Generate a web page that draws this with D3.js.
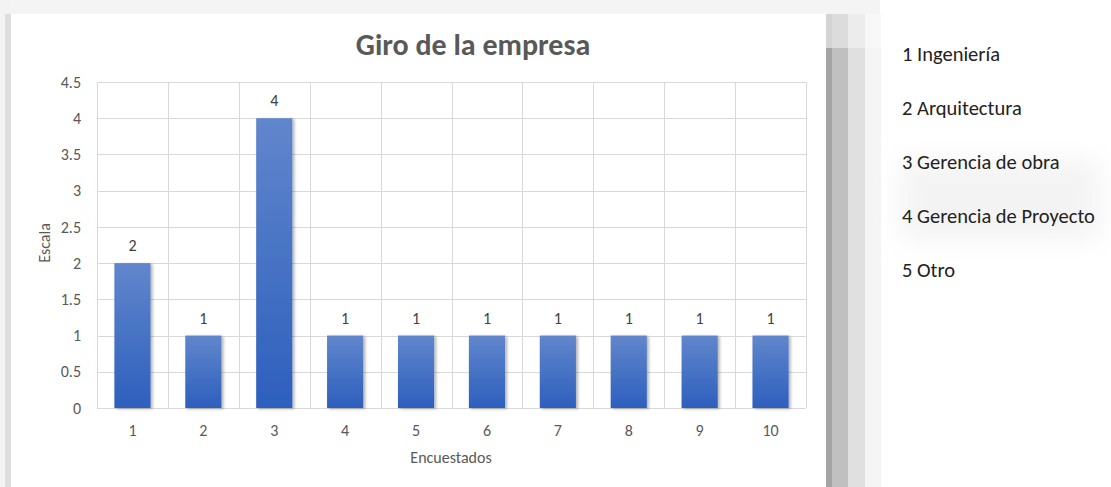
<!DOCTYPE html>
<html>
<head>
<meta charset="utf-8">
<script src="https://cdn.jsdelivr.net/npm/d3@7"></script>
<style>
  html, body { margin: 0; padding: 0; background: #ffffff; }
  svg { display: block; }
</style>
</head>
<body>
<svg id="chart" width="1111" height="487"></svg>
<script>
// Encuestados (x categories) and their values on the "Escala" axis
const encuestados = ["1", "2", "3", "4", "5", "6", "7", "8", "9", "10"];
const valores = [2, 1, 4, 1, 1, 1, 1, 1, 1, 1];
const yTicks = [0, 0.5, 1, 1.5, 2, 2.5, 3, 3.5, 4, 4.5];
const leyenda = ["1 Ingeniería", "2 Arquitectura", "3 Gerencia de obra", "4 Gerencia de Proyecto", "5 Otro"];

const svg = d3.select("#chart");
const font = "Carlito, 'Open Sans', 'Noto Sans', sans-serif";
const defs = svg.append("defs");

// page backdrop: light frame around the chart card and its drop shadow
svg.append("rect").attr("x", 0).attr("y", 0).attr("width", 880).attr("height", 14).attr("fill", "#f4f4f4");
svg.append("rect").attr("x", 0).attr("y", 0).attr("width", 11).attr("height", 487).attr("fill", "#f3f3f3");
svg.append("rect").attr("x", 5).attr("y", 14).attr("width", 6).attr("height", 473).attr("fill", "#dedede");
const shadow = [
  { x: 826, w: 6, c: "#a4a4a4" },
  { x: 832, w: 16, c: "#c0c0c0" },
  { x: 848, w: 17, c: "#e0e0e0" },
  { x: 865, w: 16, c: "#f5f5f5" }
];
shadow.forEach(s => {
  svg.append("rect").attr("x", s.x).attr("y", 48).attr("width", s.w).attr("height", 439).attr("fill", s.c);
});
const shadowTop = [
  { x: 826, w: 6, c: "#d4d4d4" },
  { x: 832, w: 16, c: "#dcdcdc" },
  { x: 848, w: 17, c: "#ececec" },
  { x: 865, w: 16, c: "#f8f8f8" }
];
shadowTop.forEach(s => {
  svg.append("rect").attr("x", s.x).attr("y", 14).attr("width", s.w).attr("height", 34).attr("fill", s.c);
});

// faint soft haze behind the list on the right
const haze = defs.append("filter").attr("id", "haze").attr("x", "-20%").attr("y", "-40%").attr("width", "140%").attr("height", "180%");
haze.append("feGaussianBlur").attr("stdDeviation", 12);
svg.append("rect").attr("x", 900).attr("y", 160).attr("width", 200).attr("height", 80)
  .attr("fill", "#ececec").attr("opacity", 0.6).attr("filter", "url(#haze)");

// chart card
svg.append("rect").attr("x", 11).attr("y", 14).attr("width", 815).attr("height", 473).attr("fill", "#ffffff");

const plot = { left: 97, right: 806, top: 82, bottom: 408 };

const x = d3.scaleBand().domain(encuestados).range([plot.left, plot.right]).paddingInner(0).paddingOuter(0);
const y = d3.scaleLinear().domain([0, 4.5]).range([plot.bottom, plot.top]);

// gradient + shadow for bars
const grad = defs.append("linearGradient").attr("id", "barGrad").attr("x1", 0).attr("y1", 0).attr("x2", 0).attr("y2", 1);
grad.append("stop").attr("offset", "0%").attr("stop-color", "#6186cc");
grad.append("stop").attr("offset", "100%").attr("stop-color", "#2d5fbd");
const filt = defs.append("filter").attr("id", "barShadow").attr("x", "-20%").attr("y", "-5%").attr("width", "150%").attr("height", "115%");
filt.append("feDropShadow").attr("dx", 2).attr("dy", 1).attr("stdDeviation", 1.6).attr("flood-color", "#000").attr("flood-opacity", 0.3);

// horizontal gridlines
const g = svg.append("g");
g.selectAll("line.h").data(yTicks).join("line")
  .attr("x1", plot.left).attr("x2", plot.right)
  .attr("y1", d => Math.round(y(d)) + 0.5).attr("y2", d => Math.round(y(d)) + 0.5)
  .attr("stroke", "#d9d9d9").attr("stroke-width", 1);

// vertical gridlines at category boundaries
const bounds = encuestados.map(d => x(d)).concat([plot.right]);
g.selectAll("line.v").data(bounds).join("line")
  .attr("x1", d => Math.round(d) + 0.5).attr("x2", d => Math.round(d) + 0.5)
  .attr("y1", plot.top).attr("y2", plot.bottom)
  .attr("stroke", "#d9d9d9").attr("stroke-width", 1);

// y axis tick labels
const yAxis = d3.axisLeft(y).tickValues(yTicks).tickSize(0).tickPadding(16).tickFormat(d => String(d));
const yg = svg.append("g").attr("transform", `translate(${plot.left},0)`).call(yAxis);
yg.select(".domain").remove();
yg.selectAll("text").attr("font-family", font).attr("font-size", 16).attr("fill", "#595959");

// x axis tick labels
const xAxis = d3.axisBottom(x).tickSize(0).tickPadding(17);
const xg = svg.append("g").attr("transform", `translate(0,${plot.bottom})`).call(xAxis);
xg.select(".domain").remove();
xg.selectAll("text").attr("font-family", font).attr("font-size", 16).attr("fill", "#595959");

// bars
const bw = x.bandwidth() * 0.51;
svg.append("g").selectAll("rect").data(valores).join("rect")
  .attr("x", (d, i) => x(encuestados[i]) + (x.bandwidth() - bw) / 2)
  .attr("width", bw)
  .attr("y", d => y(d))
  .attr("height", d => y(0) - y(d))
  .attr("fill", "url(#barGrad)")
  .attr("filter", "url(#barShadow)");

// value labels
svg.append("g").selectAll("text").data(valores).join("text")
  .attr("x", (d, i) => x(encuestados[i]) + x.bandwidth() / 2)
  .attr("y", d => y(d) - 12)
  .attr("text-anchor", "middle")
  .attr("font-family", font).attr("font-size", 16).attr("fill", "#404040")
  .text(d => d);

// title
svg.append("text").attr("x", 473).attr("y", 55).attr("text-anchor", "middle")
  .attr("font-family", font).attr("font-size", 30).attr("font-weight", "bold").attr("fill", "#595959")
  .text("Giro de la empresa");

// axis titles
svg.append("text").attr("transform", "translate(50,243) rotate(-90)").attr("text-anchor", "middle")
  .attr("font-family", font).attr("font-size", 16).attr("fill", "#595959").text("Escala");
svg.append("text").attr("x", 451).attr("y", 463).attr("text-anchor", "middle")
  .attr("font-family", font).attr("font-size", 16).attr("fill", "#595959").text("Encuestados");

// category list on the right
svg.append("g").selectAll("text").data(leyenda).join("text")
  .attr("x", 902).attr("y", (d, i) => 61 + i * 54)
  .attr("font-family", font).attr("font-size", 20.5).attr("fill", "#222222")
  .text(d => d);
</script>
</body>
</html>
